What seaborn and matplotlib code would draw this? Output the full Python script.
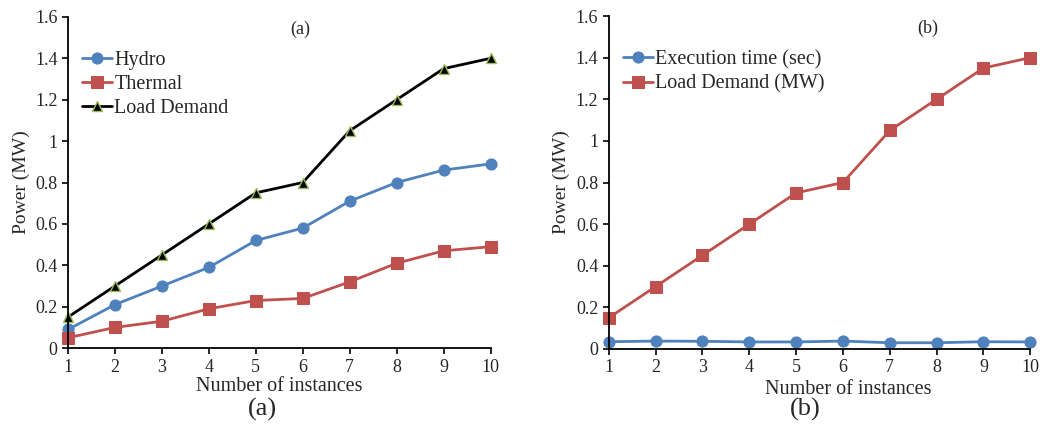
import seaborn as sns
import matplotlib.pyplot as plt
import pandas as pd
from matplotlib.ticker import FuncFormatter

# values
instances = [1, 2, 3, 4, 5, 6, 7, 8, 9, 10]
hydro = [0.09, 0.21, 0.30, 0.39, 0.52, 0.58, 0.71, 0.80, 0.86, 0.89]
thermal = [0.05, 0.10, 0.13, 0.19, 0.23, 0.24, 0.32, 0.41, 0.47, 0.49]
load_demand = [0.15, 0.30, 0.45, 0.60, 0.75, 0.80, 1.05, 1.20, 1.35, 1.40]
exec_time = [0.035, 0.038, 0.037, 0.034, 0.034, 0.038, 0.030, 0.030, 0.035, 0.034]

sns.set_theme(style="ticks")
plt.rcParams['font.family'] = ['Liberation Serif', 'DejaVu Serif']

blue = '#4F81BD'
red = '#C0504D'

fig = plt.figure(figsize=(10.46, 4.33), dpi=100)
ax1 = fig.add_axes([0.065, 0.196, 0.404, 0.765])
ax2 = fig.add_axes([0.582, 0.194, 0.403, 0.769])

df_a = pd.DataFrame({'x': instances, 'Hydro': hydro, 'Thermal': thermal,
                     'Load Demand': load_demand})
df_b = pd.DataFrame({'x': instances, 'Execution time (sec)': exec_time,
                     'Load Demand (MW)': load_demand})

sns.lineplot(data=df_a, x='x', y='Hydro', ax=ax1, color=blue, lw=2,
             marker='o', markersize=8, markeredgecolor=blue, label='Hydro')
sns.lineplot(data=df_a, x='x', y='Thermal', ax=ax1, color=red, lw=2,
             marker='s', markersize=8, markeredgecolor=red, label='Thermal')
sns.lineplot(data=df_a, x='x', y='Load Demand', ax=ax1, color='black', lw=2,
             marker='^', markersize=7, markerfacecolor='black',
             markeredgecolor='#9BBB59', markeredgewidth=1, label='Load Demand')

sns.lineplot(data=df_b, x='x', y='Execution time (sec)', ax=ax2, color=blue, lw=2,
             marker='o', markersize=8, markeredgecolor=blue, label='Execution time (sec)')
sns.lineplot(data=df_b, x='x', y='Load Demand (MW)', ax=ax2, color=red, lw=2,
             marker='s', markersize=8, markeredgecolor=red, label='Load Demand (MW)')

fmt = FuncFormatter(lambda v, p: '%g' % round(v, 2))
for ax, panel, px in [(ax1, '(a)', 5.95), (ax2, '(b)', 7.8)]:
    for line in ax.lines:
        line.set_clip_on(False)
    ax.set_xlim(1, 10)
    ax.set_ylim(0, 1.6)
    ax.set_xticks(instances)
    ax.set_yticks([0, 0.2, 0.4, 0.6, 0.8, 1.0, 1.2, 1.4, 1.6])
    ax.yaxis.set_major_formatter(fmt)
    ax.tick_params(labelsize=13, length=4, width=1.2, color='black')
    ax.set_xlabel('Number of instances', fontsize=14.5, labelpad=1)
    ax.set_ylabel('Power (MW)', fontsize=14, labelpad=4)
    for s in ['top', 'right']:
        ax.spines[s].set_visible(False)
    for s in ['left', 'bottom']:
        ax.spines[s].set_linewidth(1.3)
        ax.spines[s].set_color('black')
    ax.text(px, 1.54, panel, fontsize=13, ha='center', va='center')
    ax.legend(loc='upper left', bbox_to_anchor=(0.0, 0.94), frameon=False,
              fontsize=14.5, handlelength=1.5, handletextpad=0.1,
              labelspacing=0.25, borderaxespad=0.3)

# right panel's x label sits a bit right of centre in the original
ax2.xaxis.set_label_coords(0.568, -0.092)

fig.text(0.251, 0.055, '(a)', fontsize=19, ha='center', va='center')
fig.text(0.770, 0.055, '(b)', fontsize=19, ha='center', va='center')

fig.savefig('out.png', dpi=100)
